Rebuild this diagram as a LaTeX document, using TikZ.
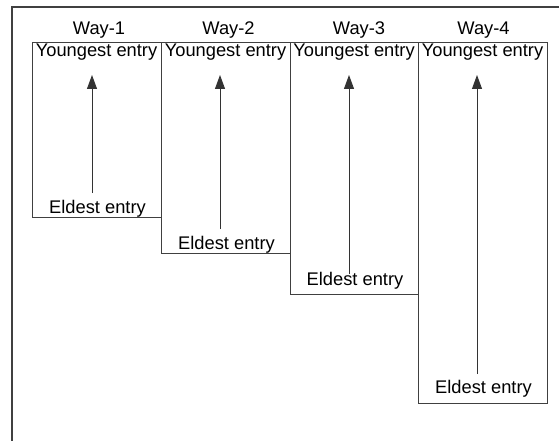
\documentclass[tikz,border=0pt]{standalone}
\usepackage{fontspec}
\setmainfont{Liberation Sans}
\usetikzlibrary{arrows.meta}
\begin{document}
\begin{tikzpicture}[x=1pt,y=-1pt,
  frame/.style={draw=black!75,line width=1.3pt},
  waybox/.style={draw=black!75,line width=0.9pt,inner sep=0pt,outer sep=0pt,anchor=north west},
  lbl/.style={inner sep=0pt,anchor=base,font=\fontsize{18.3}{21}\selectfont},
  agearrow/.style={draw=black!80,line width=0.9pt,-{Triangle[length=14pt,width=10pt]}}]
  \useasboundingbox (0,0) rectangle (559,441);
  % outer frame (left and top edges)
  \coordinate (fbl) at (12,441);
  \coordinate (ftl) at (12,7);
  \coordinate (ftr) at (559,7);
  \draw[frame] (fbl) -- (ftl) -- (ftr);
  % the four ways
  \node[waybox,minimum width=129pt,minimum height=175pt] (w1) at (32,42.5) {};
  \node[waybox,minimum width=129pt,minimum height=211pt] (w2) at (161,42.5) {};
  \node[waybox,minimum width=128pt,minimum height=252pt] (w3) at (290,42.5) {};
  \node[waybox,minimum width=129pt,minimum height=361pt] (w4) at (418,42.5) {};
  % headings
  \node[lbl] (h1) at (99,35) {Way-1};
  \node[lbl] (h2) at (228.5,35) {Way-2};
  \node[lbl] (h3) at (359,35) {Way-3};
  \node[lbl] (h4) at (483.5,35) {Way-4};
  % youngest entries
  \node[lbl] (y1) at (96.5,57) {Youngest entry};
  \node[lbl] (y2) at (225.5,57) {Youngest entry};
  \node[lbl] (y3) at (354,57) {Youngest entry};
  \node[lbl] (y4) at (482.5,57) {Youngest entry};
  % eldest entries
  \node[lbl] (e1) at (97.5,213) {Eldest entry};
  \node[lbl] (e2) at (226.5,249) {Eldest entry};
  \node[lbl] (e3) at (355,285) {Eldest entry};
  \node[lbl] (e4) at (483.5,393) {Eldest entry};
  % ageing arrows, eldest towards youngest
  \coordinate (a1s) at (92,193);  \coordinate (a1e) at (92,75);
  \coordinate (a2s) at (220,229); \coordinate (a2e) at (220,75);
  \coordinate (a3s) at (349,274); \coordinate (a3e) at (349,75);
  \coordinate (a4s) at (477,374); \coordinate (a4e) at (477,75);
  \draw[agearrow] (a1s) -- (a1e);
  \draw[agearrow] (a2s) -- (a2e);
  \draw[agearrow] (a3s) -- (a3e);
  \draw[agearrow] (a4s) -- (a4e);
\end{tikzpicture}
\end{document}
